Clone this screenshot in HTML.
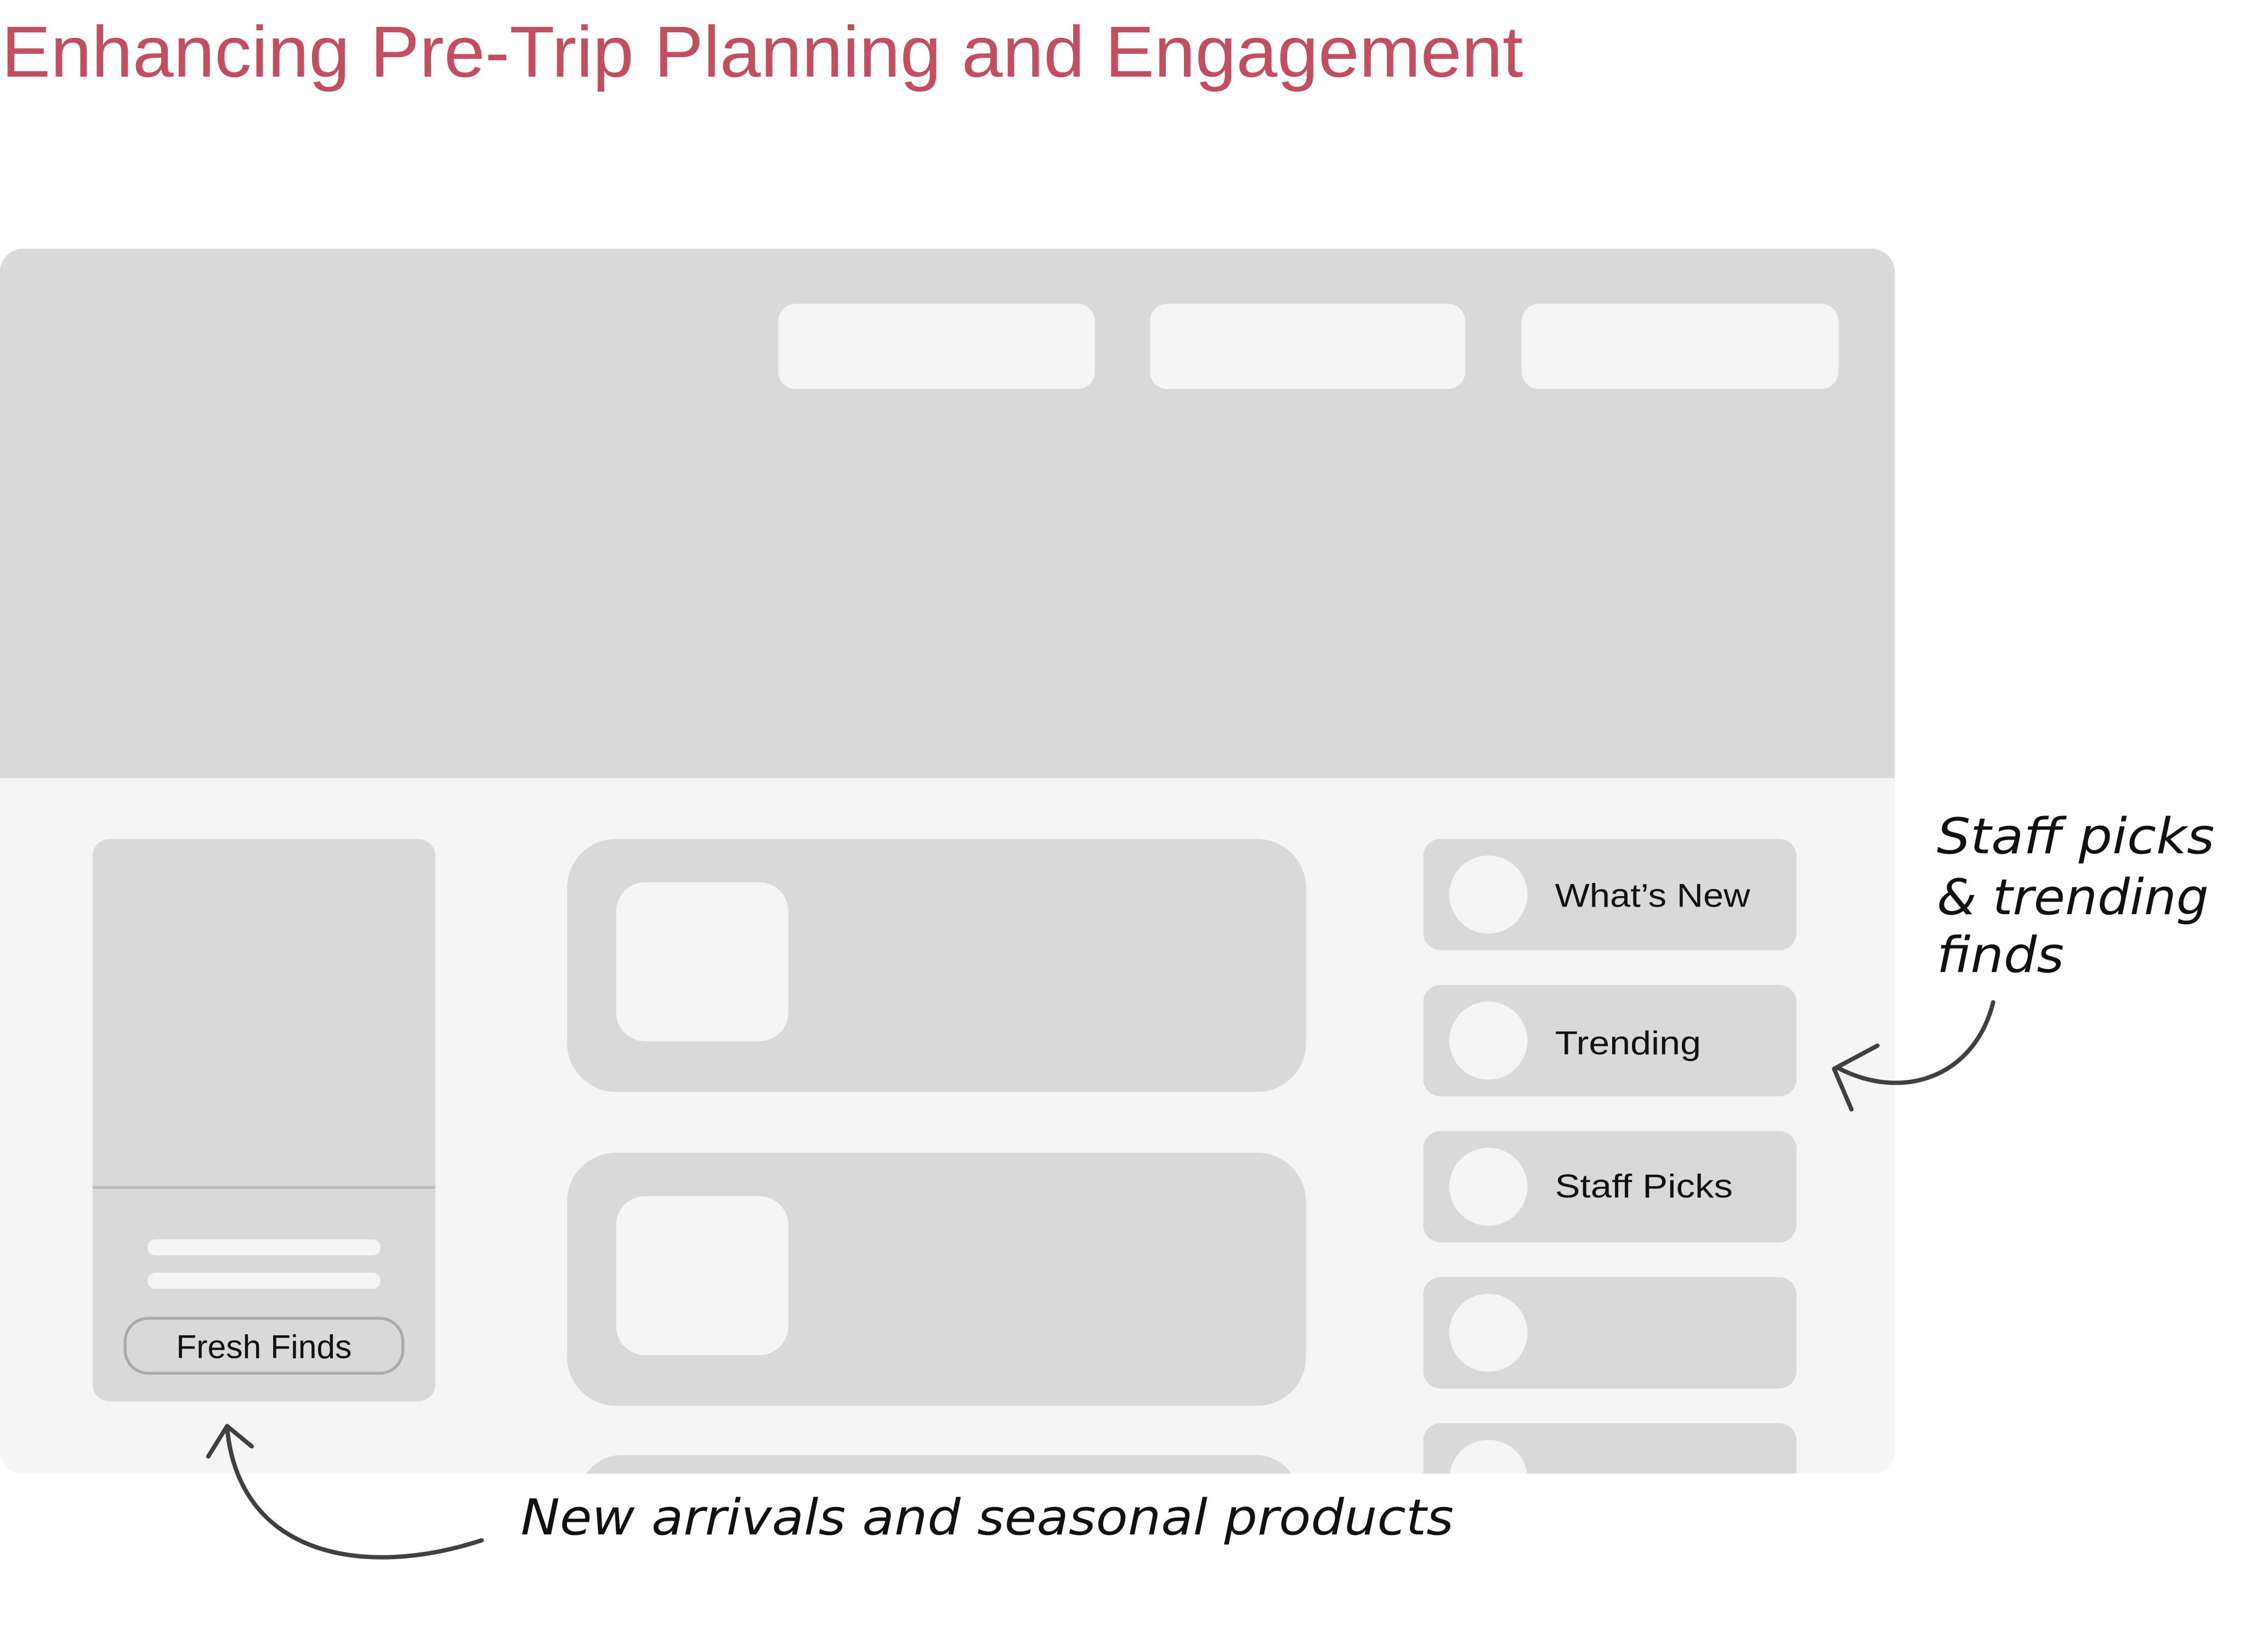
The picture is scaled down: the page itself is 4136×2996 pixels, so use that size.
<!DOCTYPE html>
<html><head><meta charset="utf-8"><style>
html,body{margin:0;padding:0;background:#fff;width:4136px;height:2996px;overflow:hidden}
svg{display:block}
</style></head><body>
<svg width="4136" height="2996" viewBox="0 0 1568 1136" preserveAspectRatio="none" xmlns="http://www.w3.org/2000/svg">
<defs><clipPath id="pc"><rect x="0" y="172" width="1310" height="847" rx="16"/></clipPath></defs>
<text x="1" y="53" font-family="Liberation Sans, sans-serif" font-size="50" fill="#c24f5f" textLength="1052" lengthAdjust="spacingAndGlyphs">Enhancing Pre-Trip Planning and Engagement</text>
<g clip-path="url(#pc)">
<rect x="0" y="172" width="1310" height="847" fill="#f5f5f5"/>
<rect x="0" y="172" width="1310" height="366" fill="#d9d9d9"/>
<rect x="538" y="210" width="219" height="59" rx="12" fill="#f5f5f5"/>
<rect x="795" y="210" width="218" height="59" rx="12" fill="#f5f5f5"/>
<rect x="1052" y="210" width="219" height="59" rx="12" fill="#f5f5f5"/>
<rect x="64" y="580" width="237" height="389" rx="12" fill="#d9d9d9"/>
<rect x="64" y="820" width="237" height="2" fill="#bbbbbb"/>
<rect x="102" y="857" width="161" height="11" rx="5.5" fill="#f5f5f5"/>
<rect x="102" y="880" width="161" height="11" rx="5.5" fill="#f5f5f5"/>
<rect x="86.5" y="911.5" width="192" height="38" rx="16" fill="#d9d9d9" stroke="#aaaaaa" stroke-width="2"/>
<text x="182.5" y="939" text-anchor="middle" font-family="Liberation Sans, sans-serif" font-size="23" fill="#111">Fresh Finds</text>
<rect x="392" y="580" width="511" height="175" rx="34" fill="#d9d9d9"/>
<rect x="426" y="610" width="119" height="110" rx="20" fill="#f5f5f5"/>
<rect x="392" y="797" width="511" height="175" rx="34" fill="#d9d9d9"/>
<rect x="426" y="827" width="119" height="110" rx="20" fill="#f5f5f5"/>
<rect x="400" y="1006" width="498" height="120" rx="30" fill="#d9d9d9"/>
<g fill="#d9d9d9">
<rect x="984" y="580" width="258" height="77" rx="12"/>
<rect x="984" y="681" width="258" height="77" rx="12"/>
<rect x="984" y="782" width="258" height="77" rx="12"/>
<rect x="984" y="883" width="258" height="77" rx="12"/>
<rect x="984" y="984" width="258" height="77" rx="12"/>
</g>
<g fill="#f5f5f5">
<circle cx="1029" cy="618.5" r="27"/>
<circle cx="1029" cy="719.5" r="27"/>
<circle cx="1029" cy="820.5" r="27"/>
<circle cx="1029" cy="921.5" r="27"/>
<circle cx="1029" cy="1022.5" r="27"/>
</g>
<g font-family="Liberation Sans, sans-serif" font-size="23" fill="#111">
<text x="1075" y="627" textLength="135" lengthAdjust="spacingAndGlyphs">What’s New</text>
<text x="1075" y="729" textLength="101" lengthAdjust="spacingAndGlyphs">Trending</text>
<text x="1075" y="828" textLength="123" lengthAdjust="spacingAndGlyphs">Staff Picks</text>
</g>
</g>
<g font-family="DejaVu Sans, sans-serif" font-style="italic" font-size="34" fill="#111">
<text x="1339" y="590" textLength="192" lengthAdjust="spacingAndGlyphs">Staff picks</text>
<text x="1339" y="632" textLength="188" lengthAdjust="spacingAndGlyphs">&amp; trending</text>
<text x="1339" y="672" textLength="88" lengthAdjust="spacingAndGlyphs">finds</text>
<text x="360" y="1061" textLength="645" lengthAdjust="spacingAndGlyphs">New arrivals and seasonal products</text>
</g>
<g fill="none" stroke="#404040" stroke-width="3" stroke-linecap="round" stroke-linejoin="round">
<path d="M1378 693 C1365 745 1315 762 1270 738"/>
<path d="M1298 723 L1268 739 L1280 767"/>
<path d="M333 1065 C250 1092 165 1075 157 987"/>
<path d="M144 1007 L157 986 L174 1000"/>
</g>
</svg>
</body></html>
